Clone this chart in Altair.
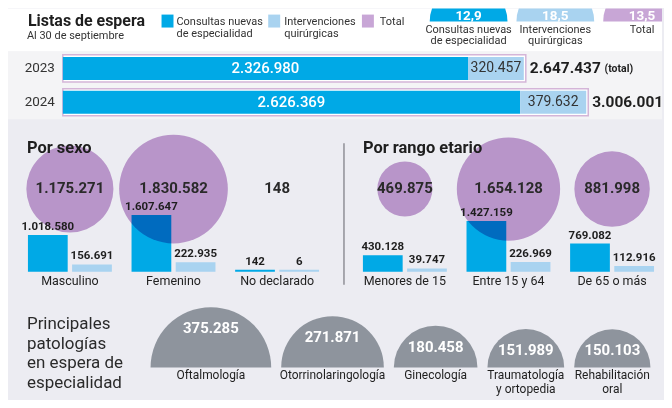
import math
import altair as alt
import pandas as pd

# ---------------- data ----------------
years = ["2023", "2024"]
year_consultas = [2326980, 2626369]
year_intervenciones = [320457, 379632]
year_total = [2647437, 3006001]

series = ["Consultas nuevas de especialidad", "Intervenciones quirúrgicas", "Total"]
series_label = ["Consultas nuevas|de especialidad", "Intervenciones|quirúrgicas", "Total"]
months_wait = [12.9, 18.5, 13.5]

sexo_cats = ["Masculino", "Femenino", "No declarado"]
sexo_consultas = [1018580, 1607647, 142]
sexo_intervenciones = [156691, 222935, 6]
sexo_total = [1175271, 1830582, 148]

edad_cats = ["Menores de 15", "Entre 15 y 64", "De 65 o más"]
edad_consultas = [430128, 1427159, 769082]
edad_intervenciones = [39747, 226969, 112916]
edad_total = [469875, 1654128, 881998]

pat_cats = ["Oftalmología", "Otorrinolaringología", "Ginecología",
            "Traumatología|y ortopedia", "Rehabilitación|oral"]
pat_values = [375285, 271871, 180458, 151989, 150103]

# ---------------- style ----------------
FONT = "Roboto"
DARK = "#1e1e1e"
BLUE = "#00a9e6"
LBLUE = "#a9d3f0"
PURPLE = "#c8a6d6"
CIRCLE = "#c7a1d4"
GRAY = "#8e949d"
BG = "#ececf2"
W = 656
H_HEAD, H_BARS, H_MID, H_BOT = 43, 68, 153, 110
seg_names = series[:2]
COLOR = alt.Scale(domain=series, range=[BLUE, LBLUE, PURPLE])


def es(v):
    return f"{v:,}".replace(",", ".")


one = pd.DataFrame({"k": [0]})


def txt(text, x, y, size, weight="normal", color=DARK, align="left",
        baseline="alphabetic", font=FONT, lh=None):
    kw = dict(text=text, align=align, baseline=baseline, fontSize=size,
              fontWeight=weight, color=color, font=font)
    if lh:
        kw["lineHeight"] = lh
    return alt.Chart(one).mark_text(**kw).encode(x=alt.value(x), y=alt.value(y))


# ---------------- header ----------------
df_wait = pd.DataFrame(dict(series=series, lab=series_label, months=months_wait,
                            mlabel=[f"{m:.1f}".replace(".", ",") for m in months_wait]))
xw = alt.X("series:N", sort=series,
           scale=alt.Scale(type="point", domain=series, range=[462, 636], padding=0),
           axis=None)
head_layers = [
    txt("Listas de espera", 20, 17, 16, weight="bold"),
    txt("Al 30 de septiembre", 19, 30, 11, color="#333"),
]
for lab, col, sx, tx in zip(series_label, [BLUE, LBLUE, PURPLE], [154, 261, 355], [169, 277, 373]):
    head_layers.append(
        alt.Chart(one).mark_rect(color=col).encode(
            x=alt.value(sx), x2=alt.value(sx + 12), y=alt.value(6), y2=alt.value(19)))
    head_layers.append(txt(lab.split("|"), tx, 7, 11, color="#333",
                           baseline="top", lh=12))
head_layers += [
    alt.Chart(df_wait).mark_arc(theta=4.712389, theta2=7.853982, radius=39, clip=True).encode(
        x=xw, y=alt.value(13), color=alt.Color("series:N", scale=COLOR, legend=None)),
    alt.Chart(df_wait).mark_text(color="white", fontWeight="bold", fontSize=13.5, font=FONT,
                                 baseline="alphabetic").encode(
        x=xw, y=alt.value(11.5), text="mlabel:N"),
    alt.Chart(df_wait).transform_calculate(lines="split(datum.lab, '|')").mark_text(
        baseline="top", fontSize=11, lineHeight=12, color="#333", font=FONT).encode(
        x=xw, y=alt.value(15), text="lines:N"),
]
header = alt.layer(*head_layers).properties(
    width=W, height=H_HEAD, view=alt.ViewBackground(fill="#ffffff", stroke=None))

# ---------------- yearly stacked bars ----------------
rows = []
for y, c, i in zip(years, year_consultas, year_intervenciones):
    rows.append(dict(year=y, seg=seg_names[0], start=0, end=c, mid=c / 2, label=es(c)))
    rows.append(dict(year=y, seg=seg_names[1], start=c, end=c + i, mid=c + i / 2, label=es(i)))
df_bars = pd.DataFrame(rows)
df_years = pd.DataFrame(dict(year=years, total=year_total,
                             label=[es(t) for t in year_total]))

xs = alt.Scale(domain=[0, max(year_total)], range=[55, 580], nice=False, zero=True)
Y = alt.Y("year:N", sort=years,
          scale=alt.Scale(domain=years, paddingInner=0.2, paddingOuter=0.1), axis=None)

bars_sec = alt.layer(
    alt.Chart(df_years).mark_bar(fill="white", stroke="#d4b5d8", strokeWidth=1.5,
                                 xOffset=2, x2Offset=-2).encode(
        x=alt.X("total:Q", scale=xs, axis=None, stack=None), y=Y),
    alt.Chart(df_bars).mark_bar(size=23).encode(
        x=alt.X("start:Q", scale=xs, axis=None, stack=None), x2="end:Q", y=Y,
        color=alt.Color("seg:N", scale=COLOR, legend=None)),
    alt.Chart(df_bars).transform_filter(alt.datum.seg == seg_names[0]).mark_text(
        color="white", fontSize=15, fontWeight=500, font=FONT).encode(
        x=alt.X("mid:Q", scale=xs, axis=None), y=Y, text="label:N"),
    alt.Chart(df_bars).transform_filter(alt.datum.seg == seg_names[1]).mark_text(
        color="#333", fontSize=14, font=FONT).encode(
        x=alt.X("mid:Q", scale=xs, axis=None), y=Y, text="label:N"),
    alt.Chart(df_years).transform_calculate(z="0").mark_text(
        align="right", dx=-8, fontSize=13.5, color="#333", font=FONT).encode(
        x=alt.X("z:Q", scale=xs, axis=None), y=Y, text="year:N"),
    alt.Chart(df_years).mark_text(align="left", dx=6, fontSize=15.5, fontWeight="bold",
                                  color=DARK, font=FONT).encode(
        x=alt.X("total:Q", scale=xs, axis=None), y=Y, text="label:N"),
    alt.Chart(df_years).transform_filter(alt.datum.year == years[0]).mark_text(
        text="(total)", align="left", dx=81, dy=1, fontSize=10.5, fontWeight="bold",
        color=DARK, font=FONT).encode(
        x=alt.X("total:Q", scale=xs, axis=None), y=Y),
).properties(width=W, height=H_BARS, view=alt.ViewBackground(fill="#f4f4f6", stroke=None))

# ---------------- middle panels ----------------
AX = alt.Axis(title=None, domain=False, ticks=False, grid=False, labelAngle=0,
              labelFont=FONT, labelFontSize=12.5, labelColor="#222", labelPadding=3,
              minExtent=18, maxExtent=18)
bar_max = max(sexo_consultas + edad_consultas)
tot_max = max(sexo_total + edad_total)


def panel(cats, consultas, interv, totals, title, width, divider):
    r = []
    for c, a, b in zip(cats, consultas, interv):
        r.append(dict(cat=c, seg=seg_names[0], value=a, label=es(a)))
        r.append(dict(cat=c, seg=seg_names[1], value=b, label=es(b)))
    d = pd.DataFrame(r)
    dt = pd.DataFrame(dict(cat=cats, total=totals, label=[es(t) for t in totals]))
    X = alt.X("cat:N", sort=cats, axis=AX,
              scale=alt.Scale(domain=cats, range=[20, 312], paddingInner=0.19, paddingOuter=0))
    XO = alt.XOffset("seg:N", sort=seg_names, scale=alt.Scale(domain=seg_names, paddingInner=0.1))
    YV = alt.Y("value:Q", axis=None, stack=None,
               scale=alt.Scale(domain=[0, bar_max], range=[H_MID, H_MID - 55], nice=False))
    layers = [
        alt.Chart(d).mark_bar(yOffset=-2).encode(
            x=X, xOffset=XO, y=YV, color=alt.Color("seg:N", scale=COLOR, legend=None)),
        alt.Chart(dt).mark_circle(color=CIRCLE, opacity=1, blend="multiply").encode(
            x=X, y=alt.value(70),
            size=alt.Size("total:Q", legend=None,
                          scale=alt.Scale(domain=[0, tot_max], range=[0, math.pi * 61.5 ** 2]))),
        alt.Chart(d).mark_text(baseline="alphabetic", dy=-7, fontSize=11.5, fontWeight="bold",
                               font=FONT, color=DARK).encode(
            x=X, xOffset=XO, y=YV, text="label:N"),
        alt.Chart(dt).mark_text(fontSize=15, fontWeight="bold", font=FONT, color="#2a2a2a",
                                baseline="middle").encode(x=X, y=alt.value(69), text="label:N"),
        txt(title, 19 if not divider else 20, 34, 16.5, weight="bold"),
    ]
    if divider:
        layers.append(alt.Chart(one).mark_rule(color="#8f8f96", strokeWidth=1.5).encode(
            x=alt.value(1), y=alt.value(24), y2=alt.value(166)))
    return alt.layer(*layers).properties(width=width, height=H_MID)


left = panel(sexo_cats, sexo_consultas, sexo_intervenciones, sexo_total, "Por sexo", 336, False)
right = panel(edad_cats, edad_consultas, edad_intervenciones, edad_total, "Por rango etario", 320, True)

# ---------------- bottom: pathologies ----------------
R_MAX = 60.5
K = R_MAX / math.sqrt(max(pat_values))
GAP = 10 / K
df_p = pd.DataFrame(dict(cat=pat_cats, value=pat_values, idx=list(range(len(pat_cats))),
                         label=[es(v) for v in pat_values]))
base = alt.Chart(df_p).transform_calculate(
    u="sqrt(datum.value)", w=f"2*sqrt(datum.value)+{GAP}"
).transform_window(
    cum="sum(w)", sort=[alt.SortField("idx")], frame=[None, 0]
).transform_calculate(
    center=f"datum.cum - datum.u - {GAP}", lines="split(datum.cat, '|')"
)
XP = alt.X("center:Q", axis=None, stack=None,
           scale=alt.Scale(domain=[0, 1000], range=[143, 143 + 1000 * K], nice=False, zero=False))
bottom = alt.layer(
    txt(["Principales", "patologías", "en espera de", "especialidad"], 19, 26, 17,
        color="#2a2a2a", baseline="top", lh=20),
    base.mark_arc(theta=4.712389, theta2=7.853982, color=GRAY).encode(
        x=XP, y=alt.value(78),
        radius=alt.Radius("value:Q", stack=None,
                          scale=alt.Scale(type="sqrt", domain=[0, max(pat_values)],
                                          range=[0, R_MAX], zero=True, nice=False))),
    base.mark_text(color="white", fontWeight="bold", fontSize=15, font=FONT,
                   baseline="middle").encode(
        x=XP, y=alt.Y("u:Q", axis=None,
                      scale=alt.Scale(domain=[0, 1000], range=[99, 99 - 1000 * K],
                                      nice=False, zero=False)),
        text="label:N"),
    base.mark_text(baseline="top", fontSize=12, lineHeight=13.5, font=FONT,
                   color=DARK).encode(x=XP, y=alt.value(81), text="lines:N"),
).properties(width=W, height=H_BOT)

chart = alt.vconcat(
    header, bars_sec, alt.hconcat(left, right, spacing=0), bottom, spacing=0
).properties(
    padding={"left": 0, "right": 0, "top": 0, "bottom": 0}, background=BG
).configure_view(stroke=None)

chart.save("out.html", embed_options={"renderer": "svg", "actions": False})
